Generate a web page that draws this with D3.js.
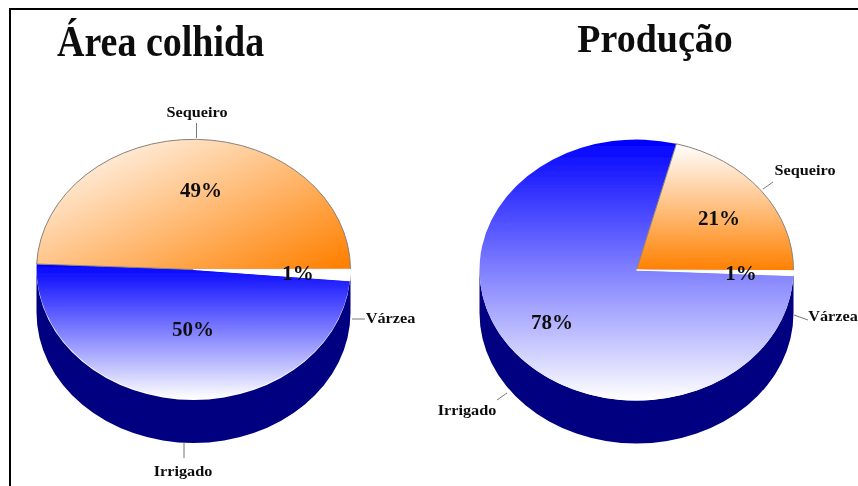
<!DOCTYPE html>
<html><head><meta charset="utf-8">
<script src="https://cdn.jsdelivr.net/npm/d3@7"></script>
<style>html,body{margin:0;padding:0;background:#fff}svg{display:block}text{font-family:"Liberation Serif",serif;font-weight:bold;fill:#111}</style>
</head><body><svg id="c" width="858" height="486"></svg>
<script>
const categories = ["Sequeiro", "Várzea", "Irrigado"];
const titles = ["Área colhida", "Produção"];
const areaValues = [49.3, 1.4, 49.3];
const prodValues = [21, 0.6, 78.4];
const areaLabels = ["49%", "1%", "50%"];
const prodLabels = ["21%", "1%", "78%"];

const panels = [
 {id:"a", values:areaValues, labels:areaLabels, title:titles[0], tx:57, ty:56, tfs:38, tsy:1.17, tanchor:"start",
  cx:193.5, cy:269.5, rx:157, ry:130.5, depth:43, start:-87.6,
  orange:[0,0.05,1,0.95],
  pct:[[201,197],[298,280],[193,336]],
  cat:[[197,117],[390.5,323],[183,476]],
  lead:[[196.5,138,196.5,123],[352,319,365,319],[184,443,184,458]]},
 {id:"p", values:prodValues, labels:prodLabels, title:titles[1], tx:655, ty:52, tfs:38, tsy:1.08, tanchor:"middle",
  cx:636.5, cy:270, rx:157, ry:130.5, depth:43, start:14.7,
  orange:[0,0,0,1],
  pct:[[719,225],[741,280],[552,329]],
  cat:[[805,175],[833,321],[467,415]],
  lead:[[763,189,773,182],[794,315,808,320],[507,393,497,400]]}
];

const svg = d3.select("#c");
const defs = svg.append("defs");
svg.append("path").attr("d","M10,486V9H858").attr("fill","none").attr("stroke","#000").attr("stroke-width",2);
const root = svg.append("g").attr("filter","url(#soft)");
defs.append("filter").attr("id","soft").attr("x",0).attr("y",0).attr("width","100%").attr("height","100%")
  .attr("filterUnits","userSpaceOnUse")
  .append("feGaussianBlur").attr("stdDeviation",0.7);

function grad(id, v, stops){
  const g = defs.append("linearGradient").attr("id",id)
    .attr("x1",v[0]).attr("y1",v[1]).attr("x2",v[2]).attr("y2",v[3]);
  stops.forEach(s=>g.append("stop").attr("offset",s[0]).attr("stop-color",s[1]));
}

const arc = d3.arc().innerRadius(0).outerRadius(1);
panels.forEach(p=>{
  grad("or"+p.id, p.orange, [[0,"#ffffff"],[1,"#ff8000"]]);
  grad("bl"+p.id, [0,0,0,1], [[0,"#0000ff"],[1,"#ffffff"]]);
  const fills = ["url(#or"+p.id+")","#ffffff","url(#bl"+p.id+")"];
  const strokes = ["#8a8178","#ffffff","none"];
  const a0 = p.start*Math.PI/180;
  const pie = d3.pie().sort(null).startAngle(a0).endAngle(a0+2*Math.PI);
  const arcs = pie(p.values);
  const g = root.append("g").attr("transform",`translate(${p.cx},${p.cy}) scale(${p.rx},${p.ry})`);
  const d = p.depth/p.ry, w = d3.path();
  w.moveTo(1,0); w.arc(0,0,1,0,Math.PI); w.lineTo(-1,d); w.arc(0,d,1,Math.PI,0,true); w.closePath();
  g.append("path").attr("d",w.toString()).attr("fill","#000080");
  g.selectAll("path.s").data([arcs[2],arcs[0],arcs[1]]).join("path").attr("class","s")
    .attr("d",arc)
    .attr("fill",e=>fills[e.index])
    .attr("stroke",e=>strokes[e.index])
    .attr("stroke-width",1)
    .attr("vector-effect","non-scaling-stroke");
  p.lead.forEach(l=>root.append("line").attr("x1",l[0]).attr("y1",l[1]).attr("x2",l[2]).attr("y2",l[3])
    .attr("stroke","#777").attr("stroke-width",1));
  p.labels.forEach((t,i)=>root.append("text").attr("x",p.pct[i][0]).attr("y",p.pct[i][1])
    .attr("text-anchor","middle").attr("font-size",21).text(t));
  categories.forEach((t,i)=>root.append("text")
    .attr("transform",`translate(${p.cat[i][0]},${p.cat[i][1]}) scale(1.3,1.12)`)
    .attr("text-anchor","middle").attr("font-size",12.5).text(t));
  root.append("text").attr("transform",`translate(${p.tx},${p.ty}) scale(1,${p.tsy})`).attr("text-anchor",p.tanchor)
    .attr("font-size",p.tfs).text(p.title);
});
</script></body></html>
